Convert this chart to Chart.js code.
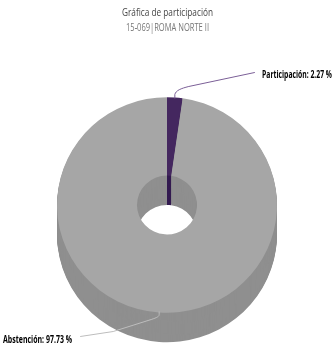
<!DOCTYPE html>
<html lang="es">
<head>
<meta charset="UTF-8" />
<title>Gráfica de participación</title>
<script src="https://cdn.jsdelivr.net/npm/chart.js"></script>
<style>
  html, body { margin: 0; padding: 0; background: #fff; }
  canvas { display: block; }
</style>
</head>
<body>
<canvas id="grafica" width="332" height="346"></canvas>
<script>
  const titulo = "Gráfica de participación";
  const subtitulo = "15-069|ROMA NORTE II";
  const categorias = ["Participación", "Abstención"];
  const valores = [2.27, 97.73];
  const coloresCara = ["#44275f", "#a6a6a6"];
  const coloresPared = ["#331a50", "#8f8f8f"];
  const coloresGuia = ["#7b5f97", "#bdbdbd"];

  const profundidad = 30;
  const escalaY = 0.98;
  const fuente = "'Open Sans', sans-serif";

  // pared del cilindro: se repite el anillo hacia abajo
  const pared = {
    id: "pared",
    beforeDatasetsDraw(chart) {
      const ctx = chart.ctx;
      const centro = chart.getDatasetMeta(0).data[0].y;
      ctx.save();
      ctx.translate(0, centro);
      ctx.scale(1, escalaY);
      ctx.translate(0, -centro);
      chart.getDatasetMeta(0).data.forEach((arco, i) => {
        const original = arco.options;
        arco.options = Object.assign({}, original, {
          backgroundColor: coloresPared[i],
          borderColor: coloresPared[i],
        });
        for (let dy = profundidad; dy > 0; dy--) {
          ctx.save();
          ctx.translate(0, dy);
          arco.draw(ctx);
          ctx.restore();
        }
        arco.options = original;
      });
    },
    afterDatasetsDraw(chart) {
      chart.ctx.restore();
    },
  };

  // titulos y etiquetas con linea guia, el ancho maximo estrecha la letra
  const etiquetas = {
    id: "etiquetas",
    afterDatasetsDraw(chart) {
      const ctx = chart.ctx;
      ctx.save();
      ctx.textBaseline = "middle";
      ctx.textAlign = "center";
      ctx.fillStyle = "#444";
      ctx.font = "11.5px " + fuente;
      ctx.fillText(titulo, 167.5, 13, 91);
      ctx.fillStyle = "#777";
      ctx.font = "10px " + fuente;
      ctx.fillText(subtitulo, 167.5, 28, 83);
      ctx.restore();

      chart.getDatasetMeta(0).data.forEach((arco, i) => {
        const ang = (arco.startAngle + arco.endAngle) / 2;
        const x = arco.x + Math.cos(ang) * arco.outerRadius;
        const y = arco.y + Math.sin(ang) * arco.outerRadius * escalaY;
        const arriba = i === 0;
        ctx.save();
        ctx.strokeStyle = coloresGuia[i];
        ctx.lineWidth = 1;
        ctx.beginPath();
        if (arriba) {
          ctx.moveTo(x, y + 1);
          ctx.lineTo(x, y - 3);
          ctx.bezierCurveTo(x + 1, y - 7, x + 6, y - 9, x + 14, y - 11);
          ctx.lineTo(x + 80, y - 25);
        } else {
          ctx.moveTo(x, y - 1);
          ctx.lineTo(x, y + 2);
          ctx.bezierCurveTo(x, y + 4, x - 2, y + 5, x - 8, y + 7);
          ctx.lineTo(x - 46, y + 19);
          ctx.lineTo(x - 79, y + 24);
        }
        ctx.stroke();
        ctx.fillStyle = "#000";
        ctx.font = "bold 10.5px " + fuente;
        ctx.textBaseline = "middle";
        const texto = categorias[i] + ": " + valores[i].toFixed(2) + " %";
        if (arriba) {
          ctx.textAlign = "left";
          ctx.fillText(texto, 262, y - 22, 70);
        } else {
          ctx.textAlign = "left";
          ctx.fillText(texto, 3, y + 27, 69);
        }
        ctx.restore();
      });
    },
  };

  new Chart(document.getElementById("grafica"), {
    type: "doughnut",
    data: {
      labels: categorias,
      datasets: [
        {
          data: valores,
          backgroundColor: coloresCara,
          borderWidth: 0,
        },
      ],
    },
    options: {
      responsive: false,
      animation: false,
      cutout: "27.3%",
      layout: { padding: { left: 57, right: 55, top: 95, bottom: 31 } },
      plugins: {
        legend: { display: false },
        tooltip: { enabled: false },
      },
    },
    plugins: [pared, etiquetas],
  });
</script>
</body>
</html>
